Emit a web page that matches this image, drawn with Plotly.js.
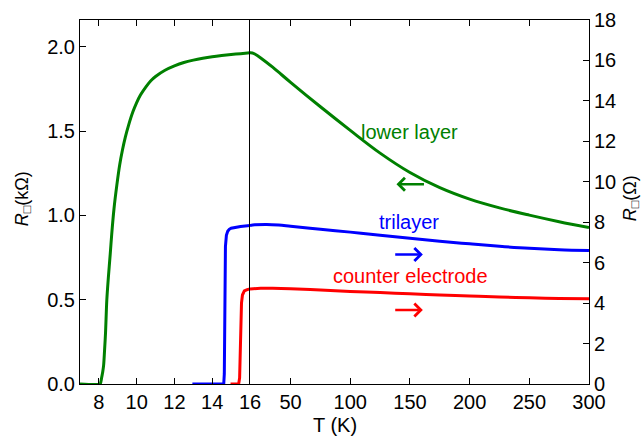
<!DOCTYPE html>
<html>
<head>
<meta charset="utf-8">
<script src="https://cdn.plot.ly/plotly-3.0.1.min.js"></script>
<style>html,body{margin:0;padding:0;background:#fff;}#chart{width:641px;height:437px;}</style>
</head>
<body>
<div id="chart"></div>
<script>
// Lower layer (left axis, kOhm)
var lowerT = [7, 8.06, 8.1, 8.15, 8.2, 8.25, 8.3, 8.35, 8.42, 8.5, 8.6, 8.68, 8.8, 8.95, 9.1, 9.25, 9.4, 9.57, 9.8, 10.0, 10.2, 10.5, 10.75, 11.0, 11.5, 12.0, 12.5, 13.0, 13.5, 14.0, 14.5, 15.0, 15.5, 16, 18, 20, 25, 35, 50, 75, 100, 125, 150, 175, 200, 225, 250, 275, 300];
var lowerR = [0, 0, 0.01, 0.04, 0.07, 0.11, 0.2, 0.3, 0.5, 0.63, 0.77, 0.89, 1.04, 1.18, 1.30, 1.39, 1.465, 1.535, 1.615, 1.67, 1.715, 1.765, 1.80, 1.825, 1.862, 1.888, 1.908, 1.922, 1.933, 1.942, 1.949, 1.955, 1.96, 1.965, 1.964, 1.958, 1.935, 1.88, 1.79, 1.645, 1.505, 1.37, 1.255, 1.165, 1.097, 1.045, 1.002, 0.963, 0.928];
// Trilayer (right axis, Ohm)
var triT = [12.95, 14.61, 14.64, 14.67, 14.7, 14.75, 14.82, 14.9, 15.0, 15.5, 16, 20, 30, 40, 50, 75, 100, 125, 150, 175, 200, 225, 250, 275, 300];
var triR = [0, 0, 0.5, 4.0, 6.8, 7.35, 7.55, 7.65, 7.7, 7.79, 7.84, 7.87, 7.89, 7.86, 7.80, 7.65, 7.51, 7.36, 7.21, 7.06, 6.93, 6.81, 6.71, 6.64, 6.6];
// Counter electrode (right axis, Ohm)
var ceT = [14.97, 15.4, 15.45, 15.5, 15.55, 15.6, 15.7, 15.85, 16, 25, 35, 50, 75, 100, 125, 150, 175, 200, 225, 250, 275, 300];
var ceR = [0, 0, 0.3, 2.5, 4.0, 4.4, 4.6, 4.67, 4.70, 4.73, 4.73, 4.71, 4.65, 4.58, 4.52, 4.46, 4.40, 4.35, 4.30, 4.26, 4.23, 4.21];

var leftTicks = [8, 10, 12, 14, 16];
var rightTicks = [50, 100, 150, 200, 250, 300];
var yLeftTicks = [0, 0.5, 1.0, 1.5, 2.0];
var yRightTicks = [0, 2, 4, 6, 8, 10, 12, 14, 16, 18];

var BREAK = 16;
function part(T, R, low) {
  var x = [], y = [];
  for (var i = 0; i < T.length; i++) {
    if ((low && T[i] <= BREAK) || (!low && T[i] >= BREAK)) { x.push(T[i]); y.push(R[i]); }
  }
  return {x: x, y: y};
}

var GREEN = '#008000', BLUE = '#0000ff', RED = '#ff0000';
var traces = [];
function add(T, R, color, yax, leftShape) {
  var a = part(T, R, true), b = part(T, R, false);
  traces.push({x: a.x, y: a.y, xaxis: 'x', yaxis: yax, mode: 'lines', line: {color: color, width: 3, shape: leftShape, smoothing: 0.8}, cliponaxis: false, hoverinfo: 'skip', showlegend: false});
  traces.push({x: b.x, y: b.y, xaxis: 'x2', yaxis: yax, mode: 'lines', line: {color: color, width: 3, shape: 'spline', smoothing: 1}, cliponaxis: false, hoverinfo: 'skip', showlegend: false});
}
add(lowerT, lowerR, GREEN, 'y', 'spline');
add(triT, triR, BLUE, 'y2', 'linear');
add(ceT, ceR, RED, 'y2', 'linear');

var FONT = 'Liberation Sans, Arial, Helvetica, sans-serif';
var split = (250 - 80) / 509;
var axBase = {showgrid: false, zeroline: false, showline: true, linecolor: '#000', linewidth: 1,
  ticks: 'inside', ticklen: 6, tickwidth: 1, tickcolor: '#000', tickfont: {family: FONT, size: 20, color: '#000'}};
function ax(o) { var r = {}; for (var k in axBase) r[k] = axBase[k]; for (var k2 in o) r[k2] = o[k2]; return r; }

var layout = {
  width: 641, height: 437,
  margin: {l: 80, r: 52, t: 20, b: 53, pad: 0},
  paper_bgcolor: '#fff', plot_bgcolor: '#fff',
  font: {family: FONT, size: 20, color: '#000'},
  showlegend: false,
  xaxis: ax({domain: [0, split], range: [7, 16], tickmode: 'array', tickvals: leftTicks, ticktext: leftTicks.map(String), anchor: 'y', mirror: 'ticks'}),
  xaxis2: ax({domain: [split, 1], range: [16, 300], tickmode: 'array', tickvals: rightTicks, ticktext: rightTicks.map(String), anchor: 'y', mirror: 'ticks'}),
  yaxis: ax({range: [0, 2.16], tickmode: 'array', tickvals: yLeftTicks, ticktext: yLeftTicks.map(function(v){return v.toFixed(1);}), anchor: 'x', side: 'left'}),
  yaxis2: ax({range: [0, 18], tickmode: 'array', tickvals: yRightTicks, ticktext: yRightTicks.map(String), anchor: 'x2', side: 'right', overlaying: 'y'}),
  shapes: [
    {type: 'line', xref: 'x', yref: 'paper', x0: BREAK, x1: BREAK, y0: 0, y1: 1, layer: 'above', line: {color: '#000', width: 2}}
  ],
  annotations: [
    {xref: 'paper', yref: 'paper', x: 0.501, y: -0.113, text: 'T (K)', showarrow: false, xanchor: 'center', yanchor: 'middle', font: {family: FONT, size: 20, color: '#000'}},
    {xref: 'paper', yref: 'paper', x: -0.112, y: 0.51, text: '<i>R</i><sub>□</sub>(kΩ)', textangle: -90, showarrow: false, xanchor: 'center', yanchor: 'middle', font: {family: FONT, size: 18, color: '#000'}},
    {xref: 'paper', yref: 'paper', x: 1.0825, y: 0.51, text: '<i>R</i><sub>□</sub>(Ω)', textangle: -90, showarrow: false, xanchor: 'center', yanchor: 'middle', font: {family: FONT, size: 18, color: '#000'}},
    {xref: 'x2', yref: 'y', x: 149.3, y: 1.495, text: 'lower layer', showarrow: false, font: {family: FONT, size: 20, color: GREEN}},
    {xref: 'x2', yref: 'y2', x: 148.9, y: 8.0, text: 'trilayer', showarrow: false, font: {family: FONT, size: 20, color: BLUE}},
    {xref: 'x2', yref: 'y2', x: 150.6, y: 5.33, text: 'counter electrode', showarrow: false, font: {family: FONT, size: 20, color: RED}},
    {xref: 'x2', yref: 'y', x: 138.7, y: 1.185, axref: 'x2', ayref: 'y', ax: 163, ay: 1.185, text: '', showarrow: true, arrowhead: 4, arrowsize: 1, arrowwidth: 2.5, arrowcolor: GREEN},
    {xref: 'x2', yref: 'y2', x: 160.8, y: 6.4, axref: 'x2', ayref: 'y2', ax: 136.4, ay: 6.4, text: '', showarrow: true, arrowhead: 4, arrowsize: 1, arrowwidth: 2.5, arrowcolor: BLUE},
    {xref: 'x2', yref: 'y2', x: 160.8, y: 3.66, axref: 'x2', ayref: 'y2', ax: 136.4, ay: 3.66, text: '', showarrow: true, arrowhead: 4, arrowsize: 1, arrowwidth: 2.5, arrowcolor: RED}
  ]
};

Plotly.newPlot('chart', traces, layout, {staticPlot: true, displayModeBar: false});
</script>
</body>
</html>
